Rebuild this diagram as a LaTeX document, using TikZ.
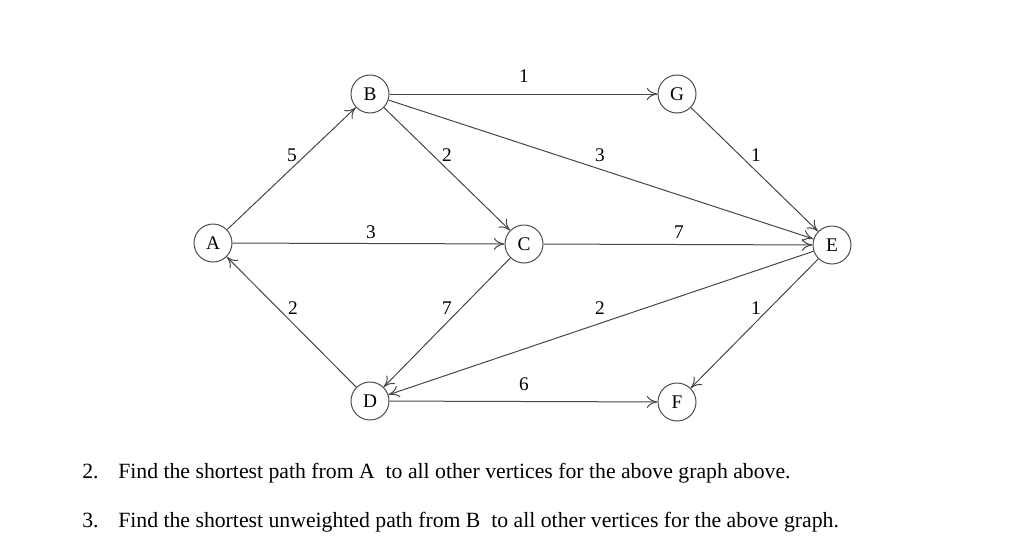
\documentclass[tikz,border=0pt]{standalone}
\usepackage{fontspec}
\setmainfont{Liberation Serif}
\usetikzlibrary{arrows.meta}
\begin{document}
\begin{tikzpicture}[x=0.75pt,y=-0.75pt,
  vert/.style={circle,draw=black!70,line width=0.75pt,minimum size=28.5pt,inner sep=0pt,font=\fontsize{14.5}{16}\selectfont},
  edge/.style={draw=black!72,line width=0.75pt,-{To[length=8pt,width=9pt]}},
  wt/.style={font=\fontsize{14.5}{16}\selectfont,inner sep=0pt},
  qtext/.style={anchor=base west,inner sep=0pt,font=\fontsize{16.3}{19}\selectfont}]
\useasboundingbox (0,0) rectangle (1024,557);
\node[vert] (A) at (213,243) {A};
\node[vert] (B) at (370,94) {B};
\node[vert] (G) at (677,94) {G};
\node[vert] (C) at (524,244) {C};
\node[vert] (E) at (832,245) {E};
\node[vert] (D) at (370,401) {D};
\node[vert] (F) at (677,402) {F};
\draw[edge] (A) -- (B);
\draw[edge] (B) -- (G);
\draw[edge] (B) -- (C);
\draw[edge] (B) -- (E);
\draw[edge] (G) -- (E);
\draw[edge] (A) -- (C);
\draw[edge] (C) -- (E);
\draw[edge] (D) -- (A);
\draw[edge] (C) -- (D);
\draw[edge] (E) -- (D);
\draw[edge] (E) -- (F);
\draw[edge] (D) -- (F);
\node[wt] (wAB) at (292,155) {5};
\node[wt] (wBC) at (447,155) {2};
\node[wt] (wBG) at (524,76) {1};
\node[wt] (wBE) at (600,155) {3};
\node[wt] (wGE) at (756,155) {1};
\node[wt] (wAC) at (371,232) {3};
\node[wt] (wCE) at (679,232) {7};
\node[wt] (wDA) at (293,308) {2};
\node[wt] (wCD) at (447,308) {7};
\node[wt] (wED) at (600,308) {2};
\node[wt] (wEF) at (756,308) {1};
\node[wt] (wDF) at (524,384) {6};
\node[qtext] (n2) at (82,478) {2.};
\node[qtext] (q2) at (118,478) {Find the shortest path from A\ \ to all other vertices for the above graph above.};
\node[qtext] (n3) at (82,527) {3.};
\node[qtext] (q3) at (118,527) {Find the shortest unweighted path from B\ \ to all other vertices for the above graph.};
\end{tikzpicture}
\end{document}
